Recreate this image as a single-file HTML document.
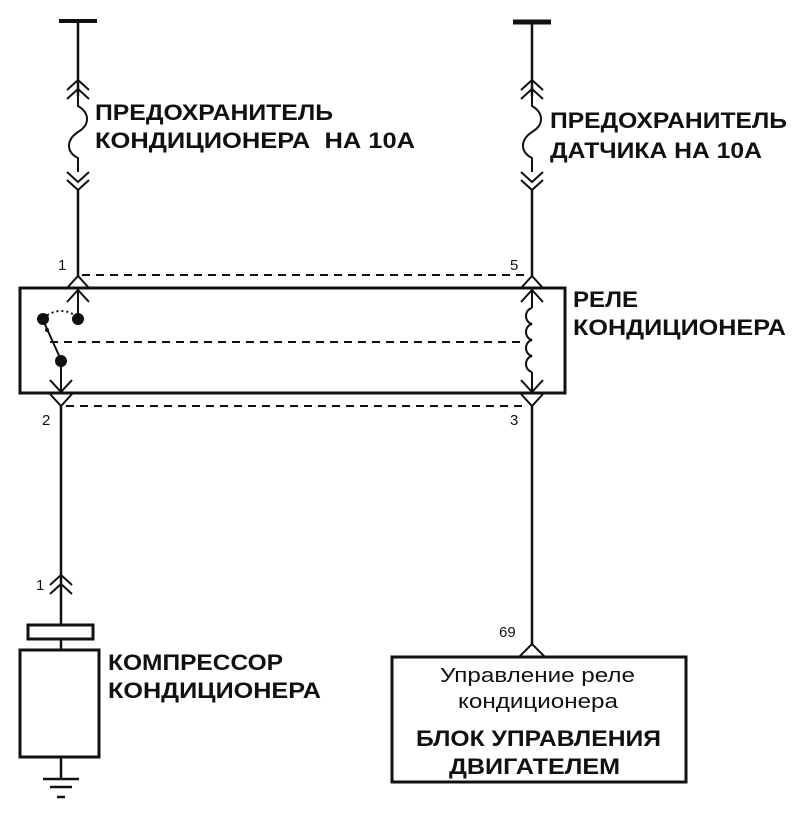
<!DOCTYPE html>
<html><head><meta charset="utf-8"><style>
html,body{margin:0;padding:0;background:#fff}
svg{display:block}
.b{font-family:"Liberation Sans",sans-serif;font-weight:bold;font-size:22px;fill:#111}
.n{font-family:"Liberation Sans",sans-serif;font-size:15px;fill:#111}
.r{font-family:"Liberation Sans",sans-serif;font-size:20px;fill:#111}
</style></head><body>
<svg width="800" height="815" viewBox="0 0 800 815" xmlns="http://www.w3.org/2000/svg">
<g stroke="#111" fill="none" stroke-width="2.5">
<line x1="59" y1="21" x2="97" y2="21" stroke-width="4"/>
<line x1="78" y1="21" x2="78" y2="96"/>
<path d="M67 90 L78 80 L89 90 M67 99 L78 89 L89 99" stroke-width="2"/>
<path d="M78 96 V106 C90 113,90 125,78 132 C66 140,66 152,78 158 V172" stroke-width="2"/>
<path d="M67 172 L78 182 L89 172 M67 180 L78 190 L89 180" stroke-width="2"/>
<line x1="78" y1="190" x2="78" y2="276"/>
<path d="M67 288 L78 276 L89 288" stroke-width="2"/>
<line x1="513" y1="22" x2="551" y2="22" stroke-width="5"/>
<line x1="532" y1="22" x2="532" y2="96"/>
<path d="M521 90 L532 80 L543 90 M521 99 L532 89 L543 99" stroke-width="2"/>
<path d="M532 96 V106 C544 113,544 125,532 132 C520 140,520 152,532 158 V172" stroke-width="2"/>
<path d="M521 172 L532 182 L543 172 M521 180 L532 190 L543 180" stroke-width="2"/>
<line x1="532" y1="190" x2="532" y2="276"/>
<path d="M521 288 L532 276 L543 288" stroke-width="2"/>
<line x1="82" y1="275" x2="528" y2="275" stroke-dasharray="8,6" stroke-width="2"/>
<line x1="50" y1="342" x2="525" y2="342" stroke-dasharray="8,6" stroke-width="2"/>
<line x1="66" y1="406" x2="528" y2="406" stroke-dasharray="8,6" stroke-width="2"/>
<rect x="20" y="288" width="545" height="105" stroke-width="3"/>
<path d="M67 302 L78 290 L89 302" stroke-width="2"/>
<line x1="78" y1="290" x2="78" y2="318" stroke-width="2"/>
<path d="M43 318 Q60 305 76 316" stroke-dasharray="2,3" stroke-width="2"/>
<line x1="43" y1="320" x2="61" y2="360" stroke-width="2"/>
<line x1="61" y1="360" x2="61" y2="392" stroke-width="2"/>
<path d="M50 380 L61 392 L72 380" stroke-width="2"/>
<path d="M50 394 L61 406 L72 394" stroke-width="2"/>
<path d="M521 302 L532 290 L543 302" stroke-width="2"/>
<line x1="532" y1="290" x2="532" y2="308" stroke-width="2"/>
<path d="M532 308 c-8 2,-8 14,0 16 c-8 2,-8 14,0 16 c-8 2,-8 14,0 16 c-8 2,-8 14,0 16" stroke-width="2"/>
<line x1="532" y1="372" x2="532" y2="392" stroke-width="2"/>
<path d="M521 380 L532 392 L543 380" stroke-width="2"/>
<path d="M521 394 L532 406 L543 394" stroke-width="2"/>
<line x1="61" y1="406" x2="61" y2="625"/>
<path d="M50 585 L61 575 L72 585 M50 594 L61 584 L72 594" stroke-width="2"/>
<rect x="28" y="625" width="65" height="14" stroke-width="3"/>
<line x1="61" y1="639" x2="61" y2="650"/>
<rect x="20" y="650" width="79" height="107" stroke-width="3"/>
<line x1="61" y1="757" x2="61" y2="779"/>
<line x1="43" y1="779" x2="79" y2="779"/>
<line x1="50" y1="787" x2="72" y2="787"/>
<line x1="57" y1="797" x2="65" y2="797"/>
<line x1="532" y1="406" x2="532" y2="645"/>
<path d="M519 657 L532 644 L545 657" stroke-width="2"/>
<rect x="392" y="657" width="294" height="125" stroke-width="3"/>
</g>
<g fill="#111">
<circle cx="43" cy="319" r="6"/><circle cx="78" cy="319" r="6"/><circle cx="61" cy="361" r="6"/>
<circle cx="47" cy="330" r="2"/>
</g>
<text class="b" x="95" y="120" textLength="238" lengthAdjust="spacingAndGlyphs">ПРЕДОХРАНИТЕЛЬ</text>
<text class="b" x="95" y="148" textLength="320" lengthAdjust="spacingAndGlyphs">КОНДИЦИОНЕРА&#160; НА 10А</text>
<text class="b" x="550" y="128" textLength="237" lengthAdjust="spacingAndGlyphs">ПРЕДОХРАНИТЕЛЬ</text>
<text class="b" x="550" y="158" textLength="212" lengthAdjust="spacingAndGlyphs">ДАТЧИКА НА 10А</text>
<text class="b" x="573" y="307" textLength="65" lengthAdjust="spacingAndGlyphs">РЕЛЕ</text>
<text class="b" x="573" y="335" textLength="213" lengthAdjust="spacingAndGlyphs">КОНДИЦИОНЕРА</text>
<text class="b" x="108" y="670" textLength="175" lengthAdjust="spacingAndGlyphs">КОМПРЕССОР</text>
<text class="b" x="108" y="698" textLength="213" lengthAdjust="spacingAndGlyphs">КОНДИЦИОНЕРА</text>
<text class="n" x="58" y="270">1</text>
<text class="n" x="510" y="270">5</text>
<text class="n" x="42" y="425">2</text>
<text class="n" x="510" y="425">3</text>
<text class="n" x="36" y="590">1</text>
<text class="n" x="499" y="637">69</text>
<text class="r" x="440" y="682" textLength="195" lengthAdjust="spacingAndGlyphs">Управление реле</text>
<text class="r" x="458" y="708" textLength="160" lengthAdjust="spacingAndGlyphs">кондиционера</text>
<text class="b" x="416" y="746" textLength="245" lengthAdjust="spacingAndGlyphs">БЛОК УПРАВЛЕНИЯ</text>
<text class="b" x="449" y="774" textLength="171" lengthAdjust="spacingAndGlyphs">ДВИГАТЕЛЕМ</text>
</svg>
</body></html>
